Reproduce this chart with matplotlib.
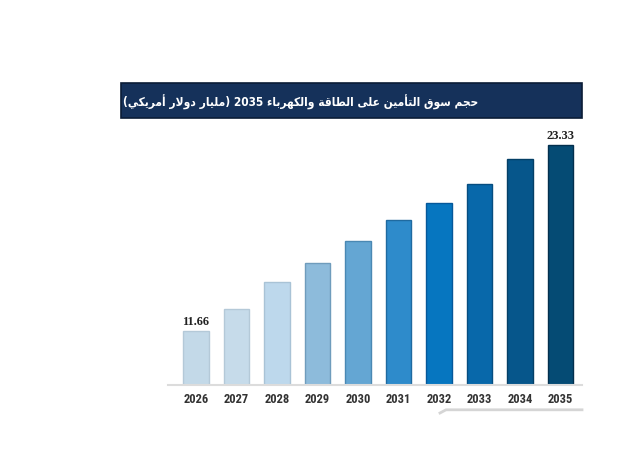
import matplotlib
matplotlib.use('Agg')
import matplotlib.pyplot as plt
from matplotlib import font_manager
from matplotlib.patches import Rectangle
from matplotlib.lines import Line2D

# البيانات
YEARS = ['2026', '2027', '2028', '2029', '2030', '2031', '2032', '2033', '2034', '2035']
VALUES = [11.66, 13.02, 14.73, 15.91, 17.31, 18.61, 19.67, 20.86, 22.43, 23.33]
SHOWN_LABELS = {0: '11.66', 9: '23.33'}
BAR_COLORS = ['#c3d9e8', '#c6dbea', '#bdd8ec', '#8dbbdb', '#64a6d3',
              '#2e8bcb', '#0676c0', '#0868aa', '#06568b', '#054b74']
EDGE_COLORS = ['#b4c9d8', '#b4c9d8', '#a9c3d6', '#6f9cbc', '#4a88b3',
               '#1f6aa0', '#05589a', '#064d80', '#043f66', '#032f4d']
TITLE = 'حجم سوق التأمين على الطاقة والكهرباء 2035 (مليار دولار أمريكي)'

# أشكال الحروف العربية: معزول، نهائي، ابتدائي، وسطي
FORMS = {
    'ء': ('\ufe80', None, None, None),
    'آ': ('\ufe81', '\ufe82', None, None),
    'أ': ('\ufe83', '\ufe84', None, None),
    'ؤ': ('\ufe85', '\ufe86', None, None),
    'إ': ('\ufe87', '\ufe88', None, None),
    'ئ': ('\ufe89', '\ufe8a', '\ufe8b', '\ufe8c'),
    'ا': ('\ufe8d', '\ufe8e', None, None),
    'ب': ('\ufe8f', '\ufe90', '\ufe91', '\ufe92'),
    'ة': ('\ufe93', '\ufe94', None, None),
    'ت': ('\ufe95', '\ufe96', '\ufe97', '\ufe98'),
    'ث': ('\ufe99', '\ufe9a', '\ufe9b', '\ufe9c'),
    'ج': ('\ufe9d', '\ufe9e', '\ufe9f', '\ufea0'),
    'ح': ('\ufea1', '\ufea2', '\ufea3', '\ufea4'),
    'خ': ('\ufea5', '\ufea6', '\ufea7', '\ufea8'),
    'د': ('\ufea9', '\ufeaa', None, None),
    'ذ': ('\ufeab', '\ufeac', None, None),
    'ر': ('\ufead', '\ufeae', None, None),
    'ز': ('\ufeaf', '\ufeb0', None, None),
    'س': ('\ufeb1', '\ufeb2', '\ufeb3', '\ufeb4'),
    'ش': ('\ufeb5', '\ufeb6', '\ufeb7', '\ufeb8'),
    'ص': ('\ufeb9', '\ufeba', '\ufebb', '\ufebc'),
    'ض': ('\ufebd', '\ufebe', '\ufebf', '\ufec0'),
    'ط': ('\ufec1', '\ufec2', '\ufec3', '\ufec4'),
    'ظ': ('\ufec5', '\ufec6', '\ufec7', '\ufec8'),
    'ع': ('\ufec9', '\ufeca', '\ufecb', '\ufecc'),
    'غ': ('\ufecd', '\ufece', '\ufecf', '\ufed0'),
    'ف': ('\ufed1', '\ufed2', '\ufed3', '\ufed4'),
    'ق': ('\ufed5', '\ufed6', '\ufed7', '\ufed8'),
    'ك': ('\ufed9', '\ufeda', '\ufedb', '\ufedc'),
    'ل': ('\ufedd', '\ufede', '\ufedf', '\ufee0'),
    'م': ('\ufee1', '\ufee2', '\ufee3', '\ufee4'),
    'ن': ('\ufee5', '\ufee6', '\ufee7', '\ufee8'),
    'ه': ('\ufee9', '\ufeea', '\ufeeb', '\ufeec'),
    'و': ('\ufeed', '\ufeee', None, None),
    'ى': ('\ufeef', '\ufef0', None, None),
    'ي': ('\ufef1', '\ufef2', '\ufef3', '\ufef4'),
}
LAM_ALEF = {'ا': ('\ufefb', '\ufefc'), 'أ': ('\ufef7', '\ufef8'),
            'إ': ('\ufef9', '\ufefa'), 'آ': ('\ufef5', '\ufef6')}


def dual(ch):
    return ch in FORMS and FORMS[ch][2] is not None


def shape_arabic(text):
    # ربط الحروف ثم عكس الترتيب للعرض من اليسار لليمين
    out = []
    i = 0
    n = len(text)
    while i < n:
        ch = text[i]
        prev_joins = i > 0 and dual(text[i - 1])
        if ch == 'ل' and i + 1 < n and text[i + 1] in LAM_ALEF:
            out.append(LAM_ALEF[text[i + 1]][1 if prev_joins else 0])
            i += 2
            continue
        if ch not in FORMS:
            out.append(ch)
            i += 1
            continue
        next_joins = dual(ch) and i + 1 < n and text[i + 1] in FORMS and text[i + 1] != 'ء'
        f = FORMS[ch]
        if prev_joins and next_joins:
            out.append(f[3])
        elif prev_joins:
            out.append(f[1] or f[0])
        elif next_joins:
            out.append(f[2])
        else:
            out.append(f[0])
        i += 1
    vis = ''.join(reversed(out))
    # إعادة الأرقام لاتجاهها
    res, buf = [], []
    for ch in vis:
        if ch.isdigit():
            buf.append(ch)
        else:
            if buf:
                res.append(''.join(reversed(buf)))
                buf = []
            res.append(ch)
    if buf:
        res.append(''.join(reversed(buf)))
    # الأقواس كما تظهر في الصورة
    return ''.join(res).translate(str.maketrans('()', ')('))


def pick_font(names, default='DejaVu Sans'):
    installed = {f.name for f in font_manager.fontManager.ttflist}
    for name in names:
        if name in installed:
            return name
    return default


tick_font = pick_font(['Liberation Sans Narrow', 'Roboto Condensed'])
serif_font = pick_font(['Liberation Serif', 'DejaVu Serif'])

fig = plt.figure(figsize=(6.28, 4.56), dpi=100)
fig.patch.set_facecolor('white')

W, H = 628.0, 456.0
ax = fig.add_axes([168 / W, (H - 385.7) / H, 414 / W, 245.7 / H])

x = list(range(len(YEARS)))
ax.bar(x, VALUES, width=0.63, color=BAR_COLORS, edgecolor=EDGE_COLORS, linewidth=1.0, zorder=2)

ax.set_xlim(-0.686, 9.53)
ax.set_ylim(8.272, 8.272 + 245.7 * 0.06274)

for i, lab in SHOWN_LABELS.items():
    ax.annotate(lab, (x[i], VALUES[i]), xytext=(0, 3), textcoords='offset points',
                ha='center', va='bottom', fontsize=9, fontweight='bold',
                family=serif_font, color='#222222', annotation_clip=False)

ax.set_xticks(x)
ax.set_xticklabels(YEARS, fontsize=9, fontweight='bold', family=tick_font, color='#333333')
ax.tick_params(axis='x', length=0, pad=5)
ax.set_yticks([])
for side in ['left', 'right', 'top']:
    ax.spines[side].set_visible(False)
ax.spines['bottom'].set_color('#dcdcdc')
ax.spines['bottom'].set_linewidth(1.5)

# شريط العنوان
fig.patches.append(Rectangle((120.7 / W, (H - 118.5) / H), 461 / W, 34.2 / H,
                             transform=fig.transFigure, facecolor='#15315a',
                             edgecolor='#0b1c36', linewidth=1.2, zorder=1))
fig.text(123 / W, (H - 102) / H, shape_arabic(TITLE), ha='left', va='center',
         fontsize=8.6, fontweight='bold', fontstretch='condensed', color='white',
         family='DejaVu Sans', zorder=3)

# خط الزخرفة السفلي
fig.lines.append(Line2D([440 / W, 446 / W, 582 / W],
                        [(H - 414) / H, (H - 410.8) / H, (H - 410.8) / H],
                        transform=fig.transFigure, color='#d5d5d5', linewidth=2))

fig.savefig('out.png', dpi=100)
